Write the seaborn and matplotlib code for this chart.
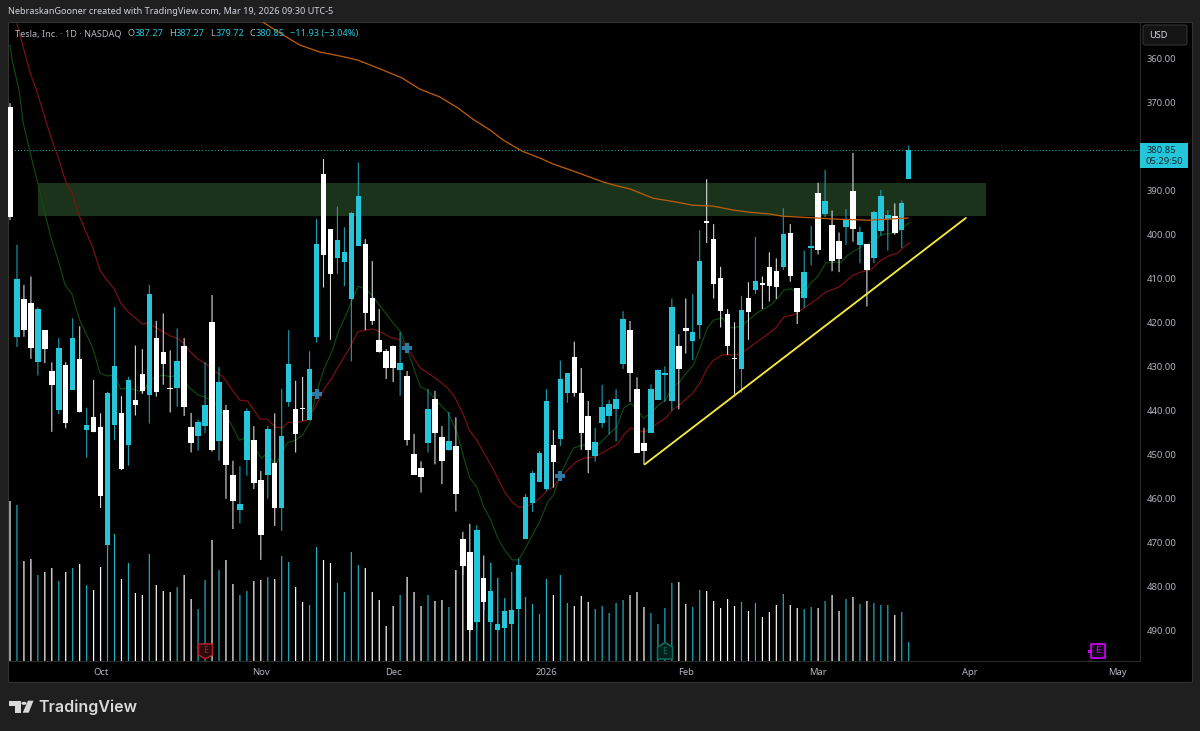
import numpy as np
import pandas as pd
import matplotlib
matplotlib.use("Agg")
import matplotlib.pyplot as plt
from matplotlib.patches import Rectangle, Polygon, Circle, FancyBboxPatch
import seaborn as sns

# candles, prices in USD. the chart axis is inverted so body_top is the smaller price
direction = list(
    "WCWWCWWCWC" "WCWWCCWCWW" "CWWWCWWCCW" "CWWCCWWCWC" "CWWCCWWCCC"
    "CWWWWWCWWW" "CWWCWWWCWC" "CCCCCCCCWC" "CWWWCCCCCW" "WWCCCCWWCC"
    "WWWWWCWCWW" "WCWWCCWCWW" "CWCWCCCWCC"
)
lows = [
    370.1, 402.3, 411.4, 409.5, 416.5, 421.7, 429.0, 423.5, 429.0, 419.0,
    420.8, 439.3, 433.0, 440.6, 435.7, 416.5, 436.7, 432.3, 425.2, 426.0,
    411.4, 419.6, 417.9, 426.3, 421.3, 423.5, 440.5, 442.0, 428.9, 413.7,
    430.1, 438.7, 451.4, 452.6, 439.5, 443.5, 453.7, 443.5, 440.6, 435.0,
    421.7, 433.2, 432.3, 426.5, 396.4, 382.8, 398.7, 393.6, 398.3, 394.8,
    383.6, 401.0, 406.0, 416.9, 426.0, 425.2, 422.1, 431.0, 445.3, 451.5,
    435.1, 435.5, 443.5, 440.3, 441.5, 467.5, 465.7, 466.0, 472.9, 474.5,
    478.0, 482.7, 476.7, 473.6, 458.9, 453.7, 449.2, 435.1, 444.4, 428.6,
    431.4, 424.3, 430.3, 437.8, 443.9, 434.1, 437.6, 435.1, 417.4, 419.6,
    432.4, 443.9, 434.0, 430.6, 429.9, 414.5, 422.6, 414.5, 413.5, 399.0,
    387.4, 397.6, 407.3, 416.9, 419.9, 413.9, 410.8, 400.5, 409.5, 404.0,
    405.4, 394.0, 397.6, 412.2, 403.6, 398.0, 388.2, 385.3, 394.5, 399.5,
    394.2, 381.4, 398.2, 402.2, 394.6, 389.8, 394.4, 392.9, 392.2, 379.72,
]
body_top = [
    370.9, 410.0, 414.5, 415.6, 416.9, 421.7, 431.0, 425.8, 429.7, 423.4,
    428.3, 443.2, 441.4, 443.7, 435.9, 429.8, 440.6, 433.0, 437.6, 431.7,
    413.5, 423.4, 426.7, 434.8, 428.6, 425.4, 443.7, 442.5, 438.8, 419.9,
    433.5, 439.8, 454.6, 461.3, 440.1, 446.7, 455.8, 444.1, 451.9, 445.8,
    429.4, 439.5, 439.4, 430.5, 402.0, 386.2, 398.7, 401.2, 404.0, 395.1,
    391.1, 402.2, 414.3, 423.9, 426.4, 425.2, 429.2, 432.0, 449.8, 453.0,
    439.5, 437.3, 445.9, 446.8, 448.0, 469.2, 472.0, 467.1, 478.0, 481.0,
    488.5, 485.5, 485.3, 475.1, 459.5, 454.2, 449.7, 437.9, 447.9, 432.9,
    431.4, 427.7, 435.9, 441.2, 447.2, 439.2, 438.5, 437.4, 419.2, 421.6,
    435.0, 447.3, 435.1, 430.8, 431.4, 416.4, 425.2, 421.3, 422.0, 406.0,
    396.9, 400.9, 409.8, 418.0, 428.0, 417.0, 414.3, 410.5, 411.0, 407.3,
    408.2, 399.8, 399.5, 412.2, 408.5, 402.6, 390.5, 392.4, 397.8, 401.4,
    396.7, 390.0, 399.3, 402.2, 394.8, 391.1, 395.5, 395.7, 392.7, 380.85,
]
body_bottom = [
    395.9, 423.2, 421.7, 425.8, 428.9, 426.0, 434.2, 439.8, 442.7, 435.3,
    440.4, 444.4, 444.8, 459.4, 470.5, 443.2, 453.3, 447.8, 438.7, 435.5,
    436.5, 435.8, 429.3, 435.1, 434.8, 439.2, 447.4, 445.8, 443.4, 448.9,
    446.9, 452.3, 460.5, 462.6, 451.1, 456.5, 468.3, 454.5, 462.2, 462.0,
    438.0, 445.3, 439.7, 442.2, 423.2, 404.5, 409.0, 405.4, 406.3, 414.6,
    402.5, 417.9, 419.5, 426.6, 430.2, 430.2, 430.8, 446.7, 454.5, 455.0,
    447.4, 445.1, 451.4, 448.9, 458.9, 475.2, 489.9, 488.0, 483.4, 488.1,
    489.9, 489.3, 488.4, 485.1, 469.1, 461.0, 456.2, 457.8, 451.7, 446.4,
    435.9, 435.9, 445.1, 448.9, 450.2, 442.8, 441.1, 439.5, 429.3, 431.5,
    449.5, 449.1, 445.1, 437.5, 431.8, 437.9, 430.5, 421.9, 424.2, 420.5,
    397.3, 411.2, 417.3, 425.3, 428.3, 430.5, 417.6, 412.5, 411.4, 411.7,
    411.9, 407.4, 409.3, 417.6, 414.4, 403.1, 403.4, 395.3, 405.9, 405.6,
    398.2, 398.7, 402.3, 408.0, 405.2, 399.2, 396.4, 399.5, 399.0, 387.27,
]
highs = [
    396.7, 425.5, 423.2, 428.2, 432.0, 429.2, 444.8, 440.8, 444.0, 435.3,
    440.4, 450.7, 444.9, 462.1, 471.2, 446.7, 453.5, 452.5, 441.1, 436.2,
    442.9, 436.8, 434.1, 440.4, 439.1, 441.2, 449.5, 449.1, 445.1, 449.3,
    451.4, 460.0, 466.9, 465.6, 454.8, 457.8, 473.9, 460.0, 466.2, 467.3,
    439.1, 449.5, 442.3, 442.2, 424.5, 412.0, 423.9, 408.9, 411.7, 428.8,
    402.5, 421.7, 420.5, 426.8, 432.8, 433.5, 436.6, 447.9, 454.5, 458.6,
    449.5, 452.2, 456.7, 449.1, 462.9, 477.3, 490.3, 489.8, 485.3, 489.8,
    490.3, 489.8, 488.9, 488.7, 469.2, 463.0, 456.2, 458.2, 457.5, 448.0,
    438.2, 436.8, 448.9, 454.2, 451.6, 443.9, 445.4, 447.0, 430.5, 438.0,
    449.5, 452.2, 445.1, 437.5, 438.0, 440.0, 439.7, 427.0, 428.5, 423.7,
    401.9, 414.5, 421.1, 427.3, 436.3, 435.9, 423.9, 413.5, 416.9, 415.2,
    414.6, 408.0, 410.7, 420.3, 416.6, 407.0, 404.5, 396.0, 408.3, 408.5,
    402.3, 401.6, 406.5, 416.3, 406.5, 400.2, 403.6, 400.0, 403.0, 387.27,
]
# volume, relative heights
volumes = [
    160, 156, 100, 102, 86, 89, 93, 80, 89, 93,
    97, 76, 71, 94, 120, 127, 82, 98, 68, 66,
    107, 76, 70, 69, 74, 86, 62, 52, 81, 121,
    91, 101, 77, 66, 70, 80, 81, 84, 82, 105,
    99, 74, 59, 56, 114, 101, 98, 78, 69, 109,
    96, 93, 69, 61, 35, 55, 66, 84, 69, 55,
    66, 60, 61, 54, 91, 100, 85, 80, 75, 98,
    83, 63, 89, 70, 64, 57, 47, 82, 66, 86,
    58, 55, 65, 59, 52, 55, 48, 58, 61, 66,
    69, 54, 48, 37, 53, 78, 79, 57, 54, 71,
    70, 60, 53, 62, 55, 59, 50, 58, 44, 49,
    56, 67, 56, 53, 52, 54, 53, 60, 66, 50,
    62, 64, 57, 60, 58, 56, 56, 46, 49, 19,
]

# moving averages as (bar, price) pairs
green_bar = [0, 0.3, 1.3, 1.9, 2.9, 4, 5, 5.9, 6.9, 7.9, 8.9, 10, 11.9, 12.9, 13.9, 15, 15.9, 17, 18, 19.1,
             20.1, 21.1, 22, 23, 24, 24.9, 25.6, 27, 28, 29.4, 31.6, 32.9, 34.1, 36.1, 36.9, 38.1, 39.8, 41, 42, 43.1,
             43.8, 45, 46.3, 47.1, 48.1, 49.3, 50, 51.3, 52.7, 53.9, 55, 56, 57.2, 58.9, 59.9, 61.8, 62.9, 64.2, 65.1, 66,
             67, 68, 69, 70, 71, 72.1, 73, 74, 75, 76, 77.2, 78, 79, 80, 80.9, 82.2, 84, 85.1, 86.1, 87.1,
             88.1, 89.1, 90.1, 90.9, 92, 93.1, 94.1, 95.1, 96.1, 97.1, 98.1, 99.1, 100.1, 101, 102.3, 103, 104, 105.2, 106, 107.2,
             108.2, 109.2, 110.2, 111.1, 112.1, 113.1, 114.2, 114.9, 115.9, 117.1, 119.3, 120.3, 122.1, 123.1, 124.3, 125.3, 127.2, 129.2]
green_ma = [356.9, 360.3, 367.1, 374.6, 381.4, 388.3, 395.1, 400.8, 405.7, 411.4, 413.5, 419.4, 425.8, 431.4, 432.1, 431.9, 435.1, 434.8, 435.3, 435.8,
            433.0, 432.3, 431.9, 432.3, 431.9, 432.3, 434.6, 436.4, 436.9, 438.3, 442.6, 446.7, 446.0, 450.8, 449.6, 452.3, 447.3, 446.7, 445.5, 442.6,
            436.9, 430.8, 426.2, 422.1, 418.7, 414.2, 411.7, 412.6, 415.3, 417.8, 420.1, 421.9, 426.9, 434.6, 435.3, 438.7, 440.5, 445.1, 450.5, 455.3,
            457.3, 461.9, 464.8, 468.9, 471.7, 473.9, 473.9, 471.2, 468.2, 465.3, 460.7, 459.2, 454.6, 451.2, 448.5, 447.8, 448.5, 446.7, 445.1, 443.7,
            439.4, 438.3, 439.8, 441.7, 440.5, 438.7, 437.6, 434.6, 433.5, 431.4, 429.6, 425.5, 421.2, 419.4, 418.9, 421.0, 421.2, 420.5, 419.4, 417.8,
            416.9, 416.0, 414.4, 412.6, 412.3, 413.2, 413.0, 411.0, 409.6, 406.4, 406.2, 404.6, 402.8, 402.1, 400.8, 399.9, 399.6, 397.1]
red_bar = [1, 2.2, 3, 3.8, 5, 6, 6.9, 8, 8.9, 10, 11.9, 12.9, 13.9, 14.9, 15.9, 17, 18, 19, 19.7, 21.1,
           22, 23, 24, 24.9, 25.9, 27, 28, 29.2, 30.6, 31.9, 33, 34.1, 35.9, 36.9, 38.1, 39.1, 39.9, 40.9, 42.7, 43.8,
           45, 46.3, 47.4, 48.6, 49.9, 51, 52, 53.2, 54.6, 56, 57.5, 58.9, 60.8, 62.8, 63.9, 65.1, 65.9, 67, 69, 70,
           71, 72.1, 73, 74, 75.1, 76.1, 77.2, 78, 79, 80, 81.2, 82.3, 84, 85.2, 87.2, 88.1, 89.1, 90.2, 91.2, 93,
           94.1, 95.1, 96.1, 98, 99.1, 100.1, 101, 102.3, 104.2, 105.2, 106, 107.2, 108.2, 109.9, 111.1, 112.5, 113.9, 115.7, 117.1, 119,
           121, 122.1, 123.6, 125, 126.2, 127.4, 128.3, 129.2]
red_ma = [352.1, 359.2, 363.7, 367.1, 373.3, 378.5, 382.3, 388.0, 390.5, 396.0, 403.0, 408.0, 410.3, 412.1, 415.5, 417.6, 418.9, 420.3, 420.1, 421.2,
          422.1, 423.0, 423.5, 424.6, 426.7, 428.3, 429.2, 430.8, 432.3, 435.3, 437.6, 437.8, 441.9, 441.9, 443.7, 443.9, 442.6, 442.8, 442.1, 439.2,
          435.3, 432.3, 429.2, 426.2, 422.1, 421.7, 421.4, 422.1, 423.3, 423.9, 426.9, 430.3, 432.3, 434.8, 437.1, 441.0, 444.4, 446.7, 452.3, 455.3,
          458.5, 460.8, 461.9, 461.9, 461.0, 459.8, 458.0, 457.3, 455.3, 453.5, 451.7, 450.8, 450.5, 449.4, 447.6, 445.5, 443.9, 444.6, 444.8, 442.8,
          441.7, 439.8, 438.7, 436.0, 433.5, 430.3, 428.5, 427.3, 427.3, 426.7, 425.8, 424.4, 423.3, 421.2, 418.7, 418.2, 416.7, 414.8, 413.0, 411.9,
          409.2, 408.5, 408.0, 405.8, 404.8, 404.2, 402.8, 401.7]
orange_bar = [36.3, 39.2, 41.6, 44.5, 47.4, 49.9, 53.1, 56.3, 58.8, 61.7, 64.3, 66.4, 68.9, 70.8, 73.5, 76.1, 77.9, 80.8, 85.1, 87.1,
              89, 92.3, 95.7, 98, 100.9, 103.8, 106.2, 109.1, 110.9, 115.8, 119.1, 123.4, 128.9]
orange_ma = [351.7, 354.6, 356.9, 358.5, 359.4, 360.3, 362.3, 364.4, 366.9, 368.7, 371.2, 373.7, 376.2, 378.5, 381.0, 382.6, 383.9, 385.5, 388.0, 388.9,
             389.6, 391.7, 392.6, 393.3, 393.5, 394.4, 394.9, 395.3, 395.8, 396.2, 396.5, 396.7, 396.2]

# drawings on the chart
zone_bars = [4, 140.1]
zone_prices = [388.3, 395.8]
trend_bars = [91.1, 137.2]
trend_prices = [452.2, 396.2]
plus_bars = [44, 57, 79]
plus_prices = [436.3, 425.7, 454.8]
last_price = 380.85

price_ticks = [360, 370, 380, 390, 400, 410, 420, 430, 440, 450, 460, 470, 480, 490]
time_bars = [13, 36, 55, 77, 97, 116, 137.8, 158.9]
time_labels = ["Oct", "Nov", "Dec", "2026", "Feb", "Mar", "Apr", "May"]

BG = "#1f1f1f"
CYAN = "#26c6da"
WHITE = "#ffffff"
GRID = "#2a2a2a"
TXT = "#b2b5be"
W, H = 1200, 731
XLIM = (-0.287, 162.2)


def fx(x):
    return x / W


def fy(y):
    return 1 - y / H


def poly(points, **kw):
    # shape given in picture pixels
    p = Polygon([(fx(a), fy(b)) for a, b in points], closed=True,
                transform=fig.transFigure, **kw)
    fig.add_artist(p)
    return p


def label(x, y, s, color=TXT, size=6.7, **kw):
    kw.setdefault("va", "center")
    kw.setdefault("zorder", 12)
    fig.text(fx(x), fy(y), s, color=color, fontsize=size, **kw)


sns.set_theme(style="dark", rc={"axes.grid": False})
plt.rcParams["font.family"] = ["Noto Sans", "DejaVu Sans"]

df = pd.DataFrame({"bar": np.arange(len(lows)), "low": lows, "high": highs,
                   "top": body_top, "bottom": body_bottom, "volume": volumes,
                   "dir": direction})
colors = df["dir"].map({"W": WHITE, "C": CYAN})
wick_colors = df["dir"].map({"W": "#d8d8d8", "C": "#1a9db0"})

fig = plt.figure(figsize=(W / 100, H / 100), dpi=100, facecolor=BG)
fig.add_artist(Rectangle((fx(8), fy(682)), fx(1184), 660 / H, transform=fig.transFigure,
                         facecolor="#000000", edgecolor="#333333", linewidth=0.8, zorder=-1))

pos = [fx(8), fy(661), fx(1132), 639 / H]
ax_vol = fig.add_axes(pos, zorder=1, facecolor="#000000")
ax = fig.add_axes(pos, zorder=2, facecolor="none")

# volume pane sits behind the price candles
sns.barplot(data=df, x="bar", y="volume", hue="dir", palette={"W": WHITE, "C": "#1fb0c4"},
            native_scale=True, dodge=False, width=0.17, saturation=1, linewidth=0,
            errorbar=None, legend=False, ax=ax_vol)
for patch in ax_vol.patches:
    patch.set_snap(False)
ax_vol.set_xlim(*XLIM)
ax_vol.set_ylim(0, 639)
ax_vol.axis("off")

ax.bar(np.mean(zone_bars), zone_prices[1] - zone_prices[0], width=zone_bars[1] - zone_bars[0],
       bottom=zone_prices[0], color="#1a331a", linewidth=0, zorder=1)

wicks = ax.vlines(df["bar"], df["low"], df["high"], colors=wick_colors, linewidth=0.8, zorder=3)
wicks.set_snap(False)
ax.bar(df["bar"], df["bottom"] - df["top"], bottom=df["top"], width=0.79, color=colors,
       linewidth=0, zorder=4)

sns.lineplot(x=green_bar, y=green_ma, sort=False, estimator=None, color="#0f4a10", linewidth=0.85, ax=ax, zorder=2.5)
sns.lineplot(x=red_bar, y=red_ma, sort=False, estimator=None, color="#7d1212", linewidth=0.85, ax=ax, zorder=2.5)
sns.lineplot(x=orange_bar, y=orange_ma, sort=False, estimator=None, color="#b85c0c", linewidth=0.95, ax=ax, zorder=5)
sns.lineplot(x=trend_bars, y=trend_prices, sort=False, estimator=None, color="#f5e83c", linewidth=1.35, ax=ax, zorder=5)
sns.scatterplot(x=plus_bars, y=plus_prices, marker="P", s=60, color="#2f7ba6", linewidth=0, ax=ax, zorder=6)

ax.axhline(last_price, color=CYAN, linewidth=0.75, linestyle=(0, (1, 2)), alpha=0.85, zorder=2)

ax.set_xlim(*XLIM)
ax.set_ylim(360 + (661 - 58.7) / 4.4, 360 + (22 - 58.7) / 4.4)
ax.yaxis.tick_right()
ax.set_yticks(price_ticks)
ax.set_yticklabels([f"{p:.2f}" for p in price_ticks])
ax.set_xticks(time_bars)
ax.set_xticklabels(time_labels)
ax.tick_params(axis="y", length=0, colors=TXT, labelsize=6.8, pad=5)
ax.tick_params(axis="x", length=0, colors=TXT, labelsize=6.8, pad=5)
ax.get_xticklabels()[3].set_fontweight("bold")
ax.set_xlabel("")
ax.set_ylabel("")
for side in ["top", "left"]:
    ax.spines[side].set_visible(False)
for side in ["right", "bottom"]:
    ax.spines[side].set_color(GRID)
    ax.spines[side].set_linewidth(0.8)

# price tag on the scale
fig.add_artist(Rectangle((fx(1140), fy(168)), 48 / W, 25 / H, transform=fig.transFigure,
                         facecolor=CYAN, edgecolor="none", zorder=10))
label(1147, 150.5, "380.85", color="#10262a", size=6.8)
label(1146, 162, "05:29:50", color="#10262a", size=6.8)

# currency button
fig.add_artist(FancyBboxPatch((fx(1143), fy(45)), 44 / W, 20 / H, transform=fig.transFigure,
                              boxstyle="round,pad=0,rounding_size=0.002", mutation_aspect=1.6,
                              facecolor="#141414", edgecolor="#333333", linewidth=0.8, zorder=10))
label(1149, 35.5, "USD", color="#d8dae0", size=6.6)

# header and legend
label(7.5, 12, "NebraskanGooner created with TradingView.com, Mar 19, 2026 09:30 UTC-5", color="#d1d4dc", size=6.55)
label(15, 33.5, "Tesla, Inc. · 1D · NASDAQ", size=6.6)
for x, s, c in [(128, "O", TXT), (134.5, "387.27", CYAN), (169, "H", TXT), (176, "387.27", CYAN),
                (210, "L", TXT), (215.5, "379.72", CYAN), (249, "C", TXT), (255.5, "380.85", CYAN),
                (289.5, "−11.93 (−3.04%)", CYAN)]:
    label(x, 33.5, s, color=c, size=6.6)

# earnings flags
poly([(198.5, 644), (212.5, 644), (212.5, 655), (205.5, 659), (198.5, 655)],
     facecolor="#2a0a0e", edgecolor="#b3202c", linewidth=1.1, zorder=11)
label(205.5, 650.5, "E", color="#b3202c", size=6.2, ha="center", fontweight="bold")
poly([(657.5, 647), (665, 642.5), (672.5, 647), (672.5, 659), (657.5, 659)],
     facecolor="#04201b", edgecolor="#0f6e5e", linewidth=1.1, zorder=11)
label(665, 651.5, "E", color="#0f6e5e", size=6.2, ha="center", fontweight="bold")
poly([(1090.5, 643.5), (1105, 643.5), (1105, 658), (1090.5, 658)],
     facecolor="#1a0320", edgecolor="#d500f9", linewidth=1.2, zorder=11)
poly([(1088, 649.5), (1090.5, 649.5), (1090.5, 652.5), (1088, 652.5)],
     facecolor="#d500f9", edgecolor="none", zorder=11)
label(1097.7, 650.8, "E", color="#d500f9", size=6.6, ha="center", fontweight="bold")

# footer logo
logo = "#d9d9d9"
poly([(9.3, 700.7), (20.7, 700.7), (20.7, 712.7), (14.7, 712.7), (14.7, 706), (9.3, 706)], facecolor=logo, edgecolor="none")
poly([(28, 700.7), (33.5, 700.7), (28.7, 712.7), (22.7, 712.7)], facecolor=logo, edgecolor="none")
fig.add_artist(Circle((fx(24), fy(703.3)), 2.6 / W, transform=fig.transFigure, facecolor=logo, edgecolor="none"))
label(38.5, 707, "TradingView", color=logo, size=11.5, family=["Inter", "DejaVu Sans"], fontweight="semibold")

fig.savefig("out.png", dpi=100, facecolor=BG)
